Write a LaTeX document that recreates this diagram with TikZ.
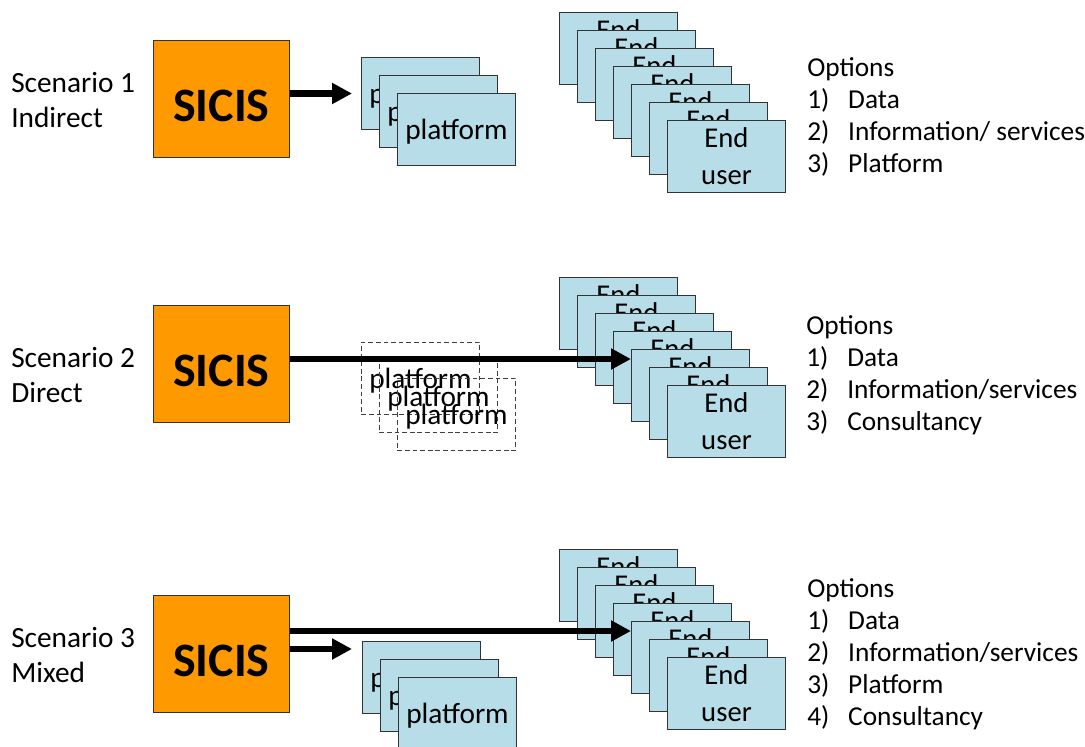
\documentclass[tikz,border=0pt]{standalone}
\usepackage{fontspec}
\setmainfont{Carlito}
\usetikzlibrary{arrows.meta}
\definecolor{sicisorange}{HTML}{FF9900}
\definecolor{boxblue}{HTML}{B7DEE8}
\begin{document}
\begin{tikzpicture}[x=0.75pt,y=-0.75pt,
 sicis/.style={draw=black!80, line width=0.6pt, fill=sicisorange, minimum width=102pt, minimum height=87.75pt, inner sep=0pt, anchor=north west, font=\fontsize{36}{40}\selectfont\bfseries, text height=36pt, text depth=2pt},
 card/.style={draw=black!80, line width=0.75pt, fill=boxblue, minimum width=88.5pt, minimum height=54pt, inner sep=0pt, anchor=north west},
 platbox/.style={card, font=\fontsize{22}{26}\selectfont, text height=21pt, text depth=6pt},
 ghostbox/.style={platbox, fill=none, draw=black!75, line width=0.7pt, dash pattern=on 3.5pt off 2.2pt},
 userbox/.style={card, font=\fontsize{21.5}{27.75}\selectfont, align=center},
 scen/.style={font=\fontsize{22}{26.25}\selectfont, align=left, anchor=base west, inner sep=0pt},
 opts/.style={font=\fontsize{20.5}{24}\selectfont, anchor=base west, inner sep=0pt},
 arr/.style={line width=5pt, -{Triangle[length=15pt,width=15pt]}},
]
\clip (0,0) rectangle (1085,746);
\fill[white] (0,0) rectangle (1085,746);

% ---------- Scenario 1 ----------
\node[scen] (l1) at (11,127) {Scenario 1\\Indirect};
\node[sicis] (s1) at (153,40) {SICIS};
\node[platbox] (p11) at (361,57) {platform};
\node[platbox] (p12) at (379,75) {platform};
\node[platbox] (p13) at (397,93) {platform};
\foreach \k in {1,...,7}
  \node[userbox] (e1\k) at ({559+18*(\k-1)},{12+18*(\k-1)}) {End\\user};
\draw[arr, shorten >=6.75pt] (s1.east |- p11.west) -- (p11.west);
\node[opts] (o1) at (807,76) {\begin{tabular}[t]{@{}p{30.75pt}@{}l@{}}\multicolumn{2}{@{}l@{}}{Options}\\1) & Data\\2) & Information/ services\\3) & Platform\end{tabular}};

% ---------- Scenario 2 ----------
\coordinate (a2) at (0,359);
\node[scen] (l2) at (11,402) {Scenario 2\\Direct};
\node[sicis] (s2) at (153,305) {SICIS};
\node[ghostbox] (p21) at (361,342) {platform};
\node[ghostbox] (p22) at (379,360) {platform};
\node[ghostbox] (p23) at (397,378) {platform};
\foreach \k in {1,...,7}
  \node[userbox] (e2\k) at ({559+18*(\k-1)},{277+18*(\k-1)}) {End\\user};
\draw[arr] (s2.east |- a2) -- (e25.west |- a2);
\node[opts] (o2) at (806,334) {\begin{tabular}[t]{@{}p{30.75pt}@{}l@{}}\multicolumn{2}{@{}l@{}}{Options}\\1) & Data\\2) & Information/services\\3) & Consultancy\end{tabular}};

% ---------- Scenario 3 ----------
\coordinate (a3a) at (0,631);
\coordinate (a3b) at (0,649);
\node[scen] (l3) at (11,682) {Scenario 3\\Mixed};
\node[sicis] (s3) at (153,595) {SICIS};
\node[platbox] (p31) at (362,641) {platform};
\node[platbox] (p32) at (380,659) {platform};
\node[platbox] (p33) at (398,677) {platform};
\foreach \k in {1,...,7}
  \node[userbox] (e3\k) at ({559+18*(\k-1)},{549+18*(\k-1)}) {End\\user};
\draw[arr] (s3.east |- a3a) -- (e35.west |- a3a);
\draw[arr, shorten >=7.5pt] (s3.east |- a3b) -- (p31.west |- a3b);
\node[opts] (o3) at (807,597) {\begin{tabular}[t]{@{}p{30.75pt}@{}l@{}}\multicolumn{2}{@{}l@{}}{Options}\\1) & Data\\2) & Information/services\\3) & Platform\\4) & Consultancy\end{tabular}};
\end{tikzpicture}
\end{document}
